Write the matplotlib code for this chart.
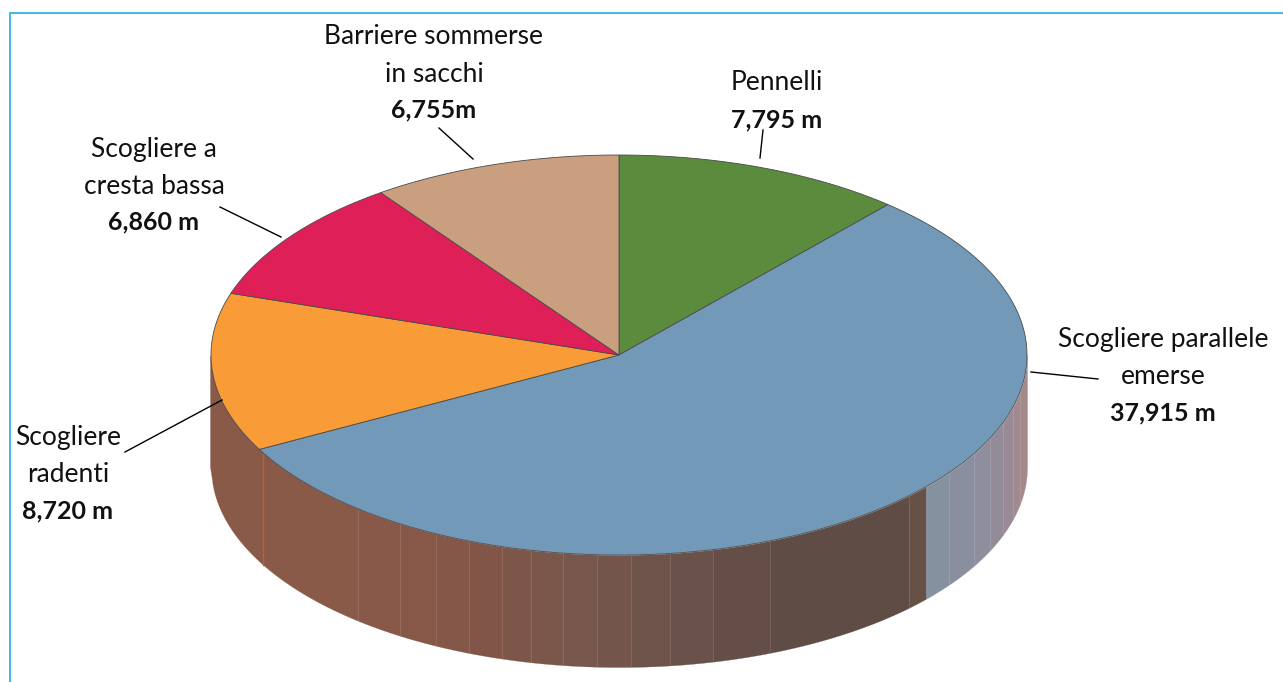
import numpy as np
import matplotlib
matplotlib.use('Agg')
import matplotlib.pyplot as plt

# Data
names = ['Pennelli', 'Scogliere parallele\nemerse', 'Scogliere\nradenti',
         'Scogliere a\ncresta bassa', 'Barriere sommerse\nin sacchi']
lengths = [7795, 37915, 8720, 6860, 6755]
length_labels = ['7,795 m', '37,915 m', '8,720 m', '6,860 m', '6,755m']
colors = ['#5b8c3e', '#729ab8', '#f99b36', '#df1f57', '#c99f80']

# Layout in pixels
cx, cy, rx, ry, depth = 619.0, 355.0, 408.0, 200.0, 112.0
text_x = [777, 1163, 68, 154, 434]
name_y = [[83], [340, 377], [438, 475], [149, 186], [37, 74]]
value_y = [120, 413, 511, 222, 110]
leaders = [[(763, 130), (760, 158)], [(1031, 372), (1098, 379)],
           [(125, 452), (222, 400)], [(220, 207), (281, 237)],
           [(439, 128), (473, 159)]]

# Side wall bands: left edge of each band and its colour
band_x = [210, 263, 358, 400, 436, 469, 502, 531, 563, 597, 631, 670, 713, 770,
          909, 926, 949, 974, 990, 1003, 1013, 1020]
band_c = ['#8a5a48', '#8a5a48', '#885948', '#875848', '#845748', '#815649',
          '#7e5649', '#7b564a', '#77564b', '#73554b', '#6e534a', '#6a5149',
          '#654e47', '#5f4c44', '#675046', '#85919f', '#8a8f9f', '#8f8e9e',
          '#948b99', '#998a96', '#a08a90', '#a5888a']
band_end = 1027

plt.rcParams['font.family'] = ['Lato', 'DejaVu Sans']

fig = plt.figure(figsize=(12.83, 6.82), dpi=100)
ax = fig.add_axes([0, 0, 1, 1])
ax.set_xlim(0, 1283)
ax.set_ylim(682, 0)
ax.axis('off')


def lower_arc(x):
    return cy + ry * np.sqrt(np.clip(1 - ((x - cx) / rx) ** 2, 0, 1))


# Frame, top and left only
ax.plot([10, 10, 1283], [682, 13, 13], color='#3db9e6', lw=1.4, solid_joinstyle='miter')

# Side wall
edges = band_x + [band_end]
for i in range(len(band_c)):
    xs = np.linspace(edges[i], edges[i + 1], 40)
    top = lower_arc(xs)
    ax.fill_between(xs, top, top + depth, facecolor=band_c[i], edgecolor=band_c[i], lw=0.2)
x0 = band_x[1]
ax.plot([x0, x0], [lower_arc(x0), lower_arc(x0) + depth], color='#b5622f', lw=1.0)

# Top face, slices clockwise from 12 o'clock
bounds = 2 * np.pi * np.concatenate([[0], np.cumsum(lengths)]) / sum(lengths)
for i in range(len(lengths)):
    t = np.linspace(bounds[i], bounds[i + 1], 200)
    xs = np.concatenate([[cx], cx + rx * np.sin(t)])
    ys = np.concatenate([[cy], cy - ry * np.cos(t)])
    ax.fill(xs, ys, facecolor=colors[i], edgecolor='#4a4a4a', lw=0.6, zorder=3)

# Labels
for i in range(len(names)):
    for line, y in zip(names[i].split('\n'), name_y[i]):
        ax.text(text_x[i], y, line, ha='center', va='center', fontsize=19, color='#111111')
    ax.text(text_x[i], value_y[i], length_labels[i], ha='center', va='center',
            fontsize=18, fontweight='bold', color='#111111')
    (x1, y1), (x2, y2) = leaders[i]
    ax.plot([x1, x2], [y1, y2], color='black', lw=1.0, zorder=4)

plt.savefig('out.png', dpi=100)
